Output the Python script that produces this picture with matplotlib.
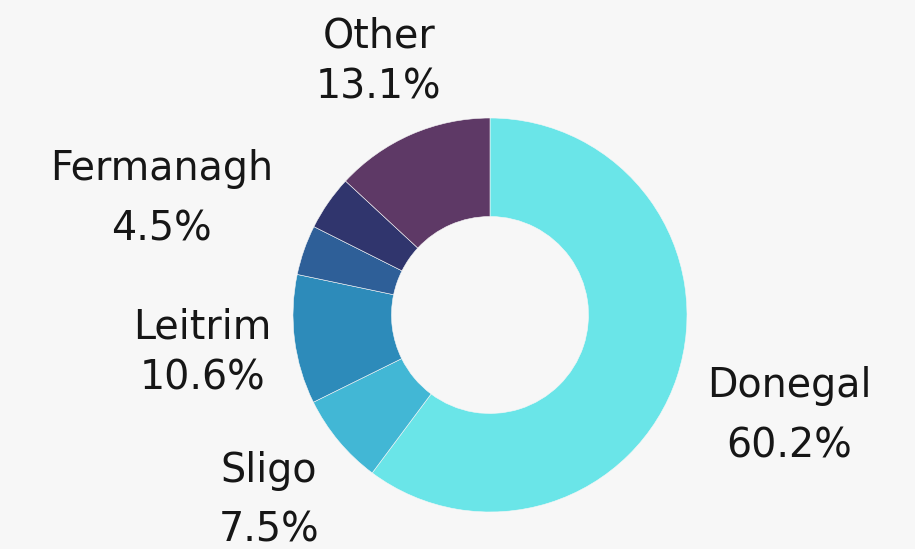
import matplotlib
matplotlib.use("Agg")
import matplotlib.pyplot as plt
import numpy as np

# ---- data ----
categories = ["Donegal", "Sligo", "Leitrim", "Unlabelled", "Fermanagh", "Other"]
shares = [60.2, 7.5, 10.6, 4.1, 4.5, 13.1]
show_label = [True, True, True, False, True, True]
colors = ["#6ae5e8", "#42b7d5", "#2d8bba", "#2e5f98", "#30356d", "#5e3966"]

# ---- layout (label anchor: angle offset in deg, radial distance; baseline gap) ----
label_layout = {
    "Donegal": (0.0, 1.60, 0.305),
    "Sligo": (0.0, 1.46, 0.305),
    "Leitrim": (0.0, 1.47, 0.26),
    "Fermanagh": (15.0, 1.77, 0.305),
    "Other": (0.0, 1.41, 0.26),
}

BG = "#f7f7f7"
W, H = 915, 549
cx, cy, R = 490, 315, 197

fig = plt.figure(figsize=(W / 100, H / 100), dpi=100, facecolor=BG)
ax = fig.add_axes([0, 0, 1, 1])
ax.set_facecolor(BG)

wedges, _ = ax.pie(shares, colors=colors, startangle=90, counterclock=False,
                   radius=1.0, wedgeprops=dict(width=0.5, edgecolor=BG, linewidth=0.4))

ax.set_xlim(-cx / R, (W - cx) / R)
ax.set_ylim(-(H - cy) / R, cy / R)
ax.set_aspect("auto")
ax.axis("off")

font = dict(family=["DejaVu Sans"], fontsize=28.5, color="#161616", weight="normal")
for w, name, pct, show in zip(wedges, categories, shares, show_label):
    if not show:
        continue
    dang, dist, gap = label_layout[name]
    mid = np.deg2rad((w.theta1 + w.theta2) / 2 + dang)
    x, y = dist * np.cos(mid), dist * np.sin(mid)
    ax.text(x, y + gap / 2 - 0.065, name, ha="center", va="baseline", **font)
    ax.text(x, y - gap / 2 - 0.065, f"{pct:.1f}%", ha="center", va="baseline", **font)

fig.savefig("out.png", dpi=100, facecolor=BG)
